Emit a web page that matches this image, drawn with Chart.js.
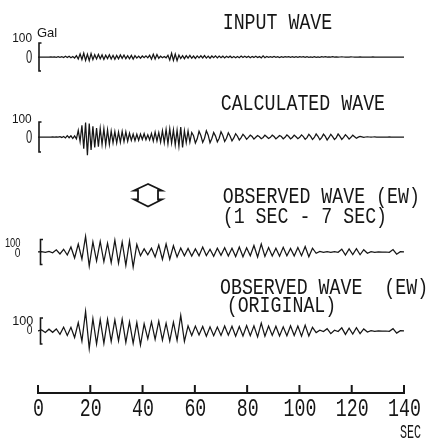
<!DOCTYPE html>
<html>
<head>
<meta charset="utf-8">
<script src="https://cdn.jsdelivr.net/npm/chart.js@4"></script>
<style>
  html, body { margin: 0; padding: 0; background: #fff; }
  canvas { display: block; }
</style>
</head>
<body>
<canvas id="waves" width="435" height="440"></canvas>
<script>
// time axis (sec)
const timeTicks = [0, 20, 40, 60, 80, 100, 120, 140];
const dtFine = 0.7;   // sampling step of input / calculated traces
const dtCoarse = 1.4; // sampling step of the observed traces

// acceleration in Gal
const inputWave = [
  0, 0, 0, 0, 0, 0, 0, 1, -1, 1,
  -2, 2, -3, 2, -4, 5, -3, 6, -5, 4,
  -7, 10, -14, 22, -18, 27, -24, 20, -26, 24,
  -19, 16, -14, 18, -12, 15, -17, 13, -11, 16,
  -14, 12, -16, 11, -13, 15, -10, 14, -12, 9,
  -13, 11, -15, 10, -8, 6, -9, 7, -5, 8,
  -6, 12, -16, 20, -14, 18, -9, 6, -5, 4,
  -6, 12, -22, 27, -24, 21, -26, 14, -11, 9,
  -12, 10, -8, 11, -9, 7, -10, 8, -6, 9,
  -7, 10, -8, 6, -9, 7, -5, 8, -6, 7,
  -5, 6, -7, 5, -4, 6, -5, 3, -6, 4,
  -5, 7, -4, 5, -3, 6, -5, 4, -3, 5,
  -4, 3, -6, 8, -5, 4, -3, 2, -3, 4,
  -2, 3, -4, 2, -3, 2, -1, 3, -2, 3,
  -3, 2, -2, 3, -1, 2, -3, 2, -2, 1,
  -2, 3, -2, 1, -2, 2, -1, 2, -1, 1,
  -1, 2, -1, 1, -1, 0, 1, 0, -1, 0,
  0, 1, 0, -1, 0, 0, 1, 0, 0, -1,
  0, 0, 0, 1, 0, 0, 0, -1, 0, 0,
  0, 0, 0, 0, 0, 0, 0, 0, 0, 0, 0
];

const calculatedWave = [
  0, 0, 0, 0, 0, 0, 0, 0, 1, -1,
  1, -1, 2, -3, 4, -6, 9, -5, 8, -10,
  7, -12, 44, -30, 78, -78, 96, -122, 89, -87,
  72, -70, 60, -64, 58, -50, 55, -52, 48, -50,
  40, -38, 36, -40, 32, -35, 38, -30, 34, -28,
  25, -22, 20, -24, 18, -22, 20, -16, 22, -18,
  15, -20, 24, -28, 32, -26, 30, -34, 42, -38,
  50, -45, 55, -40, 48, -52, 45, -60, 67, -70,
  42, -38, 40, -35, 30, 8, -40, -12, 38, 10,
  -36, -8, 42, 12, -38, -10, 30, 6, -32, -8,
  35, 10, -30, -8, 28, 5, -26, -6, 22, 5,
  -20, -4, 18, 4, -15, -3, 12, 3, -14, -2,
  10, 2, -11, -3, 12, 2, -10, -2, 12, 3,
  -13, -2, 10, 3, -12, -2, 14, 3, -12, -3,
  13, 2, -11, -2, 14, 3, -15, -4, 18, 4,
  -17, -3, 20, 5, -18, -4, 19, 4, -20, -3,
  18, 3, -17, -4, 20, 4, -16, -3, 15, 3,
  -14, -2, 12, 2, -8, -1, 4, 1, -2, 0,
  1, 0, -1, 0, 1, 0, 0, -1, 0, 0,
  0, 0, 1, 0, 0, 0, 0, 0, 0, 0, 0
];

const observedFiltered = [
  0, 2, -3, 4, -6, 18, -16, 22, -24, 40,
  -48, 64, -56, 125, -112, 80, -72, 85, -78, 70,
  -85, 95, -90, 80, -107, 88, -120, 60, -30, 25,
  -22, 30, -40, 55, -60, 64, -58, 50, -40, 32,
  -30, 28, -32, 25, -30, 40, -28, 22, -35, 30,
  -26, 34, -32, 30, -36, 40, -38, 34, -30, 52,
  -40, 64, -35, 36, -32, 30, -34, 38, -30, 28,
  -32, 36, -30, 44, -38, 30, -10, 4, -3, 2,
  -2, 3, -2, 22, -25, 24, -20, 26, -22, 18,
  -10, 3, -2, 1, 0, 0, -2, 20, -18, 2,
  0
];

const observedOriginal = [
  0, 8, -12, 14, -10, 16, -25, 30, -34, 28,
  -50, 65, -77, 150, -135, 95, -100, 88, -95, 90,
  -80, 85, -75, 92, -88, 70, -95, 65, -108, 55,
  -60, 70, -65, 75, -70, 60, -77, 68, -72, 120,
  -80, 40, -35, 38, -30, 35, -40, 32, -36, 30,
  -34, 38, -32, 36, -40, 34, -38, 42, -36, 40,
  -45, 60, -40, 38, -34, 36, -38, 32, -36, 40,
  -34, 38, -40, 45, -38, 28, -12, 6, -4, 18,
  -20, 6, -4, 24, -26, 22, -24, 25, -20, 16,
  -8, 3, -2, 1, 0, 0, -2, 18, -16, 2,
  0
];

const panelTitles = [
  ['INPUT WAVE'],
  ['CALCULATED WAVE'],
  ['OBSERVED WAVE (EW)', '(1 SEC - 7 SEC)'],
  ['OBSERVED WAVE  (EW)', '(ORIGINAL)']
];

// layout: where each zero line sits and how many px make 100 Gal
const zeroRow = [57, 137, 252, 331];
const pxPer100 = [14, 15, 12.5, 13];

const traces = [
  { vals: inputWave, dt: dtFine },
  { vals: calculatedWave, dt: dtFine },
  { vals: observedFiltered, dt: dtCoarse },
  { vals: observedOriginal, dt: dtCoarse }
];

const INK = '#161616';
const MONO = "'Liberation Mono', 'DejaVu Sans Mono', monospace";
const SANS = "'Liberation Sans', Arial, sans-serif";

function txt(ctx, s, x, y, size, sx, align, family) {
  ctx.save();
  ctx.font = size + 'px ' + family;
  ctx.textAlign = align;
  ctx.textBaseline = 'alphabetic';
  ctx.translate(x, y);
  ctx.scale(sx, 1);
  ctx.fillText(s, 0, 0);
  ctx.restore();
}

const decorations = {
  id: 'decorations',
  afterDraw(chart) {
    const ctx = chart.ctx;
    const area = chart.chartArea;
    ctx.save();
    ctx.strokeStyle = INK;
    ctx.fillStyle = INK;

    // scale brackets (+-100 Gal)
    for (let i = 0; i < 4; i++) {
      const sc = chart.scales['y' + i];
      const top = sc.getPixelForValue(100);
      const bot = sc.getPixelForValue(-100);
      const bx = area.left + (i < 2 ? 1 : 2.5);
      ctx.lineWidth = 1.6;
      ctx.beginPath();
      ctx.moveTo(bx + 2.5, top);
      ctx.lineTo(bx, top);
      ctx.lineTo(bx, bot);
      ctx.lineTo(bx + 2, bot);
      ctx.stroke();
    }

    // "100" / "0" labels
    txt(ctx, '100', 32, 41.7, 12.5, 0.95, 'right', SANS);
    txt(ctx, 'Gal', 37, 36.7, 13, 1, 'left', SANS);
    txt(ctx, '0', 32.3, 63.3, 18, 0.62, 'right', SANS);
    txt(ctx, '100', 31.7, 122.7, 12.5, 0.95, 'right', SANS);
    txt(ctx, '0', 32.3, 143.3, 18, 0.62, 'right', SANS);
    txt(ctx, '100', 20.5, 246.7, 12, 0.78, 'right', SANS);
    txt(ctx, '0', 20.5, 257, 12, 0.85, 'right', SANS);
    txt(ctx, '100', 33.3, 325, 12, 1.05, 'right', SANS);
    txt(ctx, '0', 32.3, 333.5, 12, 0.85, 'right', SANS);

    // panel titles
    const titlePos = [
      [[222.7, 29.3]],
      [[220.7, 110]],
      [[222.7, 203.3], [222.7, 223.3]],
      [[220, 294.3], [226.7, 312]]
    ];
    panelTitles.forEach((lines, i) => {
      lines.forEach((s, j) => {
        const p = titlePos[i][j];
        txt(ctx, s, p[0], p[1], 22, 0.83, 'left', MONO);
      });
    });

    // hollow up-down arrow between the two lower records
    const cx = 148, cy = 195.5;
    const pts = [[0, -11.5], [-14, -5], [-10, -5], [-10, 4], [-14, 4], [0, 11],
                 [14, 4], [10, 4], [10, -5], [14, -5]];
    ctx.lineWidth = 1.8;
    ctx.lineJoin = 'miter';
    ctx.beginPath();
    pts.forEach((p, k) => k ? ctx.lineTo(cx + p[0], cy + p[1]) : ctx.moveTo(cx + p[0], cy + p[1]));
    ctx.closePath();
    ctx.stroke();

    // time axis: tick marks pointing up, labels below
    const xs = chart.scales.x;
    ctx.lineWidth = 2;
    xs.ticks.forEach(t => {
      const px = xs.getPixelForValue(t.value);
      ctx.beginPath();
      ctx.moveTo(px, area.bottom);
      ctx.lineTo(px, area.bottom - 8);
      ctx.stroke();
      txt(ctx, String(t.value), px + 0.5, 416, 25, 0.73, 'center', MONO);
    });
    txt(ctx, 'SEC', 421, 438, 19.5, 0.6, 'right', MONO);
    ctx.restore();
  }
};

const yScales = {};
traces.forEach((tr, i) => {
  yScales['y' + i] = { type: 'linear', display: false, min: -1000, max: 1000 };
});

const chart = new Chart(document.getElementById('waves').getContext('2d'), {
  type: 'line',
  data: {
    datasets: traces.map((tr, i) => ({
      data: tr.vals.map((v, k) => ({ x: k * tr.dt, y: v })),
      yAxisID: 'y' + i,
      borderColor: INK,
      borderWidth: 1.25,
      pointRadius: 0,
      tension: 0,
      fill: false
    }))
  },
  options: {
    responsive: false,
    animation: false,
    events: [],
    layout: { padding: { left: 38, right: 31, top: 0, bottom: 47 } },
    plugins: { legend: { display: false }, tooltip: { enabled: false } },
    scales: Object.assign({
      x: {
        type: 'linear',
        min: 0,
        max: 140,
        afterBuildTicks: s => { s.ticks = timeTicks.map(v => ({ value: v })); },
        grid: { display: false, drawTicks: false },
        border: { display: true, color: INK, width: 2 },
        ticks: { display: false }
      }
    }, yScales)
  },
  plugins: [decorations]
});

// place each record: zero line on its row, 100 Gal = pxPer100 pixels
function placeRecords() {
  const area = chart.chartArea;
  traces.forEach((tr, i) => {
    const perGal = pxPer100[i] / 100;
    const o = chart.options.scales['y' + i];
    o.max = (zeroRow[i] - area.top) / perGal;
    o.min = -(area.bottom - zeroRow[i]) / perGal;
  });
  chart.update('none');
}
placeRecords();
placeRecords();
</script>
</body>
</html>
